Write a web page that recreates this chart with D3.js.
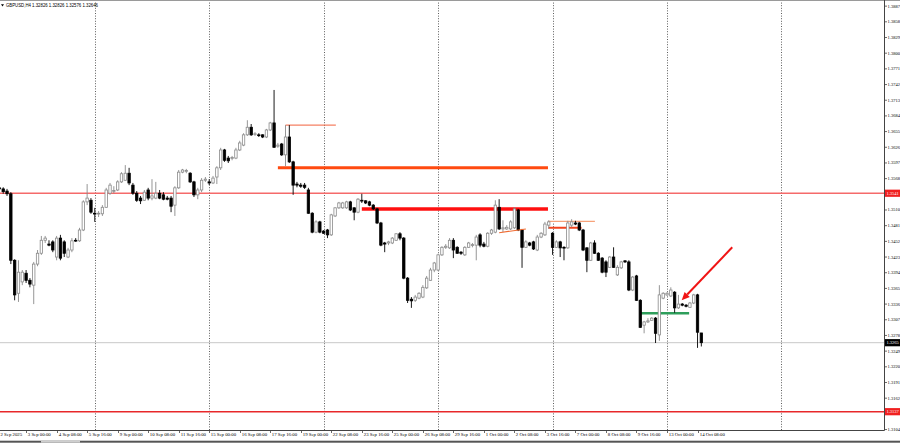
<!DOCTYPE html>
<html><head><meta charset="utf-8">
<script src="https://cdn.jsdelivr.net/npm/d3@7"></script>
<style>html,body{margin:0;padding:0;background:#fff;overflow:hidden}</style>
</head><body><svg id="c" width="900" height="446"></svg>
<script>
// ---------------- DATA ----------------
const symbol = "GBPUSD,H4";
const lastOHLC = [1.32826, 1.32826, 1.32576, 1.32646];
const firstBar = -7; // bar index of the first candle (index 0 = 3 Sep 00:00)
const open = [
1.3551,1.3549,1.3545,1.3540,1.3417,1.3356,1.3377,1.3393,1.3380,1.3371,
1.3410,1.3430,1.3454,1.3447,1.3451,1.3423,1.3458,1.3451,1.3423,1.3436,
1.3454,1.3453,1.3473,1.3525,1.3528,1.3504,1.3503,1.3503,1.3515,1.3541,
1.3545,1.3547,1.3562,1.3565,1.3578,1.3556,1.3541,1.3532,1.3528,1.3547,
1.3532,1.3532,1.3541,1.3538,1.3532,1.3532,1.3519,1.3551,1.3580,1.3582,
1.3578,1.3562,1.3538,1.3547,1.3565,1.3562,1.3560,1.3571,1.3588,1.3621,
1.3606,1.3606,1.3606,1.3621,1.3630,1.3649,1.3663,1.3650,1.3649,1.3649,
1.3645,1.3658,1.3671,1.3628,1.3632,1.3612,1.3645,1.3599,1.3558,1.3556,
1.3556,1.3547,1.3504,1.3469,1.3488,1.3471,1.3473,1.3464,1.3499,1.3514,
1.3514,1.3514,1.3525,1.3514,1.3506,1.3528,1.3527,1.3525,1.3519,1.3512,
1.3486,1.3449,1.3449,1.3449,1.3454,1.3466,1.3458,1.3384,1.3345,1.3343,
1.3347,1.3349,1.3366,1.3380,1.3399,1.3399,1.3427,1.3441,1.3440,1.3454,
1.3441,1.3432,1.3427,1.3441,1.3445,1.3445,1.3464,1.3447,1.3443,1.3467,
1.3469,1.3515,1.3475,1.3475,1.3475,1.3477,1.3510,1.3473,1.3441,1.3449,
1.3451,1.3436,1.3460,1.3464,1.3482,1.3467,1.3441,1.3451,1.3441,1.3440,
1.3482,1.3486,1.3486,1.3473,1.3440,1.3417,1.3449,1.3430,1.3421,1.3414,
1.3404,1.3423,1.3390,1.3403,1.3416,1.3414,1.3362,1.3388,1.3343,1.3297,
1.3303,1.3306,1.3310,1.3279,1.3347,1.3353,1.3351,1.3358,1.3329,1.3336,
1.3334,1.3330,1.3338,1.3353,1.32826];
const high = [
1.3554,1.3552,1.3549,1.3543,1.3419,1.3417,1.3399,1.3399,1.3384,1.3414,
1.3436,1.3462,1.3462,1.3454,1.3454,1.3462,1.3464,1.3454,1.3440,1.3458,
1.3458,1.3477,1.3528,1.3558,1.3532,1.3514,1.3508,1.3519,1.3551,1.3560,
1.3554,1.3565,1.3580,1.3593,1.3588,1.3560,1.3545,1.3536,1.3547,1.3551,
1.3567,1.3562,1.3547,1.3543,1.3536,1.3536,1.3554,1.3584,1.3586,1.3586,
1.3580,1.3564,1.3551,1.3569,1.3571,1.3567,1.3573,1.3591,1.3625,1.3623,
1.3610,1.3610,1.3625,1.3638,1.3652,1.3676,1.3669,1.3654,1.3652,1.3650,
1.3660,1.3673,1.3732,1.3634,1.3634,1.3667,1.3667,1.3601,1.3562,1.3560,
1.3560,1.3551,1.3506,1.3491,1.3490,1.3473,1.3475,1.3503,1.3515,1.3525,
1.3525,1.3527,1.3527,1.3515,1.3532,1.3540,1.3528,1.3527,1.3521,1.3514,
1.3488,1.3451,1.3453,1.3460,1.3467,1.3469,1.3460,1.3386,1.3349,1.3353,
1.3358,1.3371,1.3388,1.3403,1.3414,1.3429,1.3443,1.3447,1.3458,1.3458,
1.3443,1.3434,1.3443,1.3451,1.3449,1.3464,1.3467,1.3451,1.3469,1.3475,
1.3528,1.3530,1.3491,1.3482,1.3491,1.3515,1.3512,1.3475,1.3454,1.3451,
1.3453,1.3464,1.3469,1.3488,1.3491,1.3469,1.3454,1.3453,1.3443,1.3490,
1.3493,1.3490,1.3488,1.3475,1.3441,1.3451,1.3454,1.3432,1.3423,1.3417,
1.3425,1.3441,1.3408,1.3416,1.3417,1.3417,1.3388,1.3390,1.3345,1.3305,
1.3310,1.3312,1.3312,1.3371,1.3358,1.3358,1.3367,1.3360,1.3353,1.3338,
1.3336,1.3340,1.3355,1.3355,1.32826];
const low = [
1.3547,1.3540,1.3536,1.3410,1.3343,1.3340,1.3371,1.3375,1.3367,1.3336,
1.3406,1.3427,1.3449,1.3443,1.3432,1.3417,1.3417,1.3423,1.3421,1.3432,
1.3451,1.3451,1.3471,1.3519,1.3503,1.3488,1.3497,1.3499,1.3514,1.3538,
1.3541,1.3545,1.3560,1.3564,1.3556,1.3538,1.3525,1.3521,1.3527,1.3528,
1.3528,1.3530,1.3530,1.3528,1.3528,1.3506,1.3499,1.3549,1.3578,1.3578,
1.3560,1.3534,1.3530,1.3543,1.3562,1.3556,1.3558,1.3558,1.3584,1.3599,
1.3597,1.3602,1.3604,1.3619,1.3628,1.3647,1.3647,1.3647,1.3645,1.3643,
1.3643,1.3656,1.3625,1.3625,1.3610,1.3591,1.3597,1.3538,1.3552,1.3551,
1.3549,1.3503,1.3467,1.3467,1.3467,1.3466,1.3458,1.3462,1.3497,1.3512,
1.3512,1.3512,1.3508,1.3491,1.3504,1.3523,1.3521,1.3517,1.3510,1.3484,
1.3443,1.3432,1.3445,1.3447,1.3453,1.3454,1.3382,1.3338,1.3329,1.3340,
1.3345,1.3347,1.3364,1.3379,1.3395,1.3397,1.3425,1.3438,1.3438,1.3421,
1.3429,1.3427,1.3425,1.3440,1.3441,1.3417,1.3441,1.3441,1.3441,1.3464,
1.3467,1.3473,1.3469,1.3473,1.3473,1.3475,1.3471,1.3403,1.3440,1.3443,
1.3436,1.3434,1.3458,1.3462,1.3475,1.3427,1.3440,1.3423,1.3417,1.3438,
1.3478,1.3482,1.3471,1.3434,1.3395,1.3416,1.3429,1.3416,1.3393,1.3386,
1.3403,1.3403,1.3388,1.3401,1.3412,1.3360,1.3360,1.3342,1.3292,1.3282,
1.3301,1.3305,1.3264,1.3268,1.3345,1.3351,1.3349,1.3320,1.3327,1.3332,
1.3330,1.3329,1.3336,1.3255,1.32576];
const close = [
1.3549,1.3544,1.3540,1.3417,1.3353,1.3395,1.3395,1.3380,1.3373,1.3410,
1.3430,1.3454,1.3458,1.3445,1.3436,1.3458,1.3421,1.3430,1.3436,1.3453,
1.3453,1.3473,1.3525,1.3532,1.3506,1.3503,1.3504,1.3515,1.3547,1.3556,
1.3546,1.3562,1.3577,1.3578,1.3560,1.3541,1.3528,1.3527,1.3543,1.3532,
1.3536,1.3541,1.3532,1.3530,1.3530,1.3517,1.3551,1.3580,1.3584,1.3583,
1.3562,1.3538,1.3547,1.3565,1.3567,1.3560,1.3569,1.3588,1.3621,1.3602,
1.3601,1.3607,1.3621,1.3634,1.3649,1.3663,1.3649,1.3651,1.3648,1.3645,
1.3658,1.3671,1.3626,1.3630,1.3612,1.3645,1.3599,1.3556,1.3556,1.3554,
1.3552,1.3504,1.3469,1.3488,1.3469,1.3467,1.3464,1.3501,1.3514,1.3523,
1.3523,1.3525,1.3510,1.3506,1.3530,1.3527,1.3523,1.3519,1.3512,1.3486,
1.3445,1.3447,1.3451,1.3458,1.3466,1.3458,1.3384,1.3343,1.3342,1.3349,
1.3356,1.3367,1.3384,1.3399,1.3412,1.3427,1.3441,1.3443,1.3454,1.3436,
1.3430,1.3430,1.3441,1.3449,1.3446,1.3460,1.3445,1.3443,1.3467,1.3473,
1.3519,1.3475,1.3477,1.3478,1.3488,1.3512,1.3473,1.3441,1.3451,1.3445,
1.3438,1.3460,1.3467,1.3484,1.3488,1.3441,1.3451,1.3440,1.3440,1.3486,
1.3488,1.3484,1.3473,1.3436,1.3417,1.3449,1.3430,1.3417,1.3395,1.3395,
1.3423,1.3404,1.3404,1.3414,1.3414,1.3362,1.3386,1.3343,1.3293,1.3303,
1.3305,1.3310,1.3282,1.3353,1.3356,1.3356,1.3362,1.3329,1.3336,1.3334,
1.3332,1.3338,1.3353,1.3284,1.32646];

const priceTicks = [1.3104,1.3133,1.3162,1.3191,1.3220,1.3249,1.3278,1.3307,1.3336,1.3365,
  1.3394,1.3423,1.3452,1.3481,1.3510,1.3539,1.3568,1.3597,1.3626,1.3655,
  1.3684,1.3713,1.3742,1.3771,1.3800,1.3829,1.3858,1.3887];
const firstTimeLabel = "2 Sep 2025";
const timeTickBars = [0,8,16,24,32,40,48,56,64,72,80,88,96,104,112,120,128,136,144,152,160,168,176];
const timeTickLabels = ["3 Sep 00:00","4 Sep 08:00","5 Sep 16:00","9 Sep 00:00","10 Sep 08:00",
  "11 Sep 16:00","15 Sep 00:00","16 Sep 08:00","17 Sep 16:00","19 Sep 00:00","22 Sep 08:00",
  "23 Sep 16:00","25 Sep 00:00","26 Sep 08:00","29 Sep 16:00","1 Oct 00:00","2 Oct 08:00",
  "3 Oct 16:00","7 Oct 00:00","8 Oct 08:00","9 Oct 16:00","13 Oct 00:00","14 Oct 08:00"];
const weekStartBars = [18,48,78,108,138,168,198];

// horizontal levels across the chart
const levelPrices = [1.3541, 1.3137];
// drawn segments (price, from bar, to bar)
const segPrice = [1.3667, 1.3588, 1.3512, 1.3489, 1.3477, 1.3319];
const segFrom  = [68.0, 66.0, 88.0, 136.9, 136.9, 160.9];
const segTo    = [81.2, 136.8, 136.8, 149.1, 145.6, 173.8];
const trendBars = [124.0, 131.0], trendPrices = [1.3468, 1.3475];
const arrowBars = [185.1, 171.85], arrowPrices = [1.3441, 1.3343];

// ---------------- DRAW ----------------
const svg = d3.select("#c");
const x = d3.scaleLinear().domain([0, 168]).range([26.1, 667.0]);
const y = d3.scaleLinear().domain([1.3104, 1.3887]).range([429.54, 6.14]);
const plotR = 884.5, plotB = 430.5;

svg.append("defs").append("clipPath").attr("id","pc")
  .append("rect").attr("x",0).attr("y",0).attr("width",plotR).attr("height",plotB);
const plot = svg.append("g").attr("clip-path","url(#pc)");

// week separators
plot.selectAll("line.sep").data(weekStartBars).join("line")
  .attr("x1", d => Math.round(x(d)) + 0.5).attr("x2", d => Math.round(x(d)) + 0.5)
  .attr("y1", 0).attr("y2", plotB)
  .attr("stroke", "#333").attr("stroke-width", 0.8).attr("stroke-dasharray", "1,1.6");

// full-width levels
const levelColors = ["#f56a6a", "#e8282a"];
plot.selectAll("line.lvl").data(levelPrices).join("line")
  .attr("x1", 0).attr("x2", plotR).attr("y1", d => y(d)).attr("y2", d => y(d))
  .attr("stroke", (d,i) => levelColors[i]).attr("stroke-width", 1.4);

// current price line
plot.append("line").attr("x1",0).attr("x2",plotR)
  .attr("y1", y(lastOHLC[3])).attr("y2", y(lastOHLC[3]))
  .attr("stroke","#c8c8c8").attr("stroke-width",1);

// segments
const segColors = ["#f2603c", "#ff4a10", "#ff1010", "#f7a27a", "#f2441e", "#2e9e5b"];
const segWidths = [1, 3, 3.5, 1.4, 2, 2.6];
plot.selectAll("line.seg").data(segPrice).join("line")
  .attr("x1", (d,i) => x(segFrom[i])).attr("x2", (d,i) => x(segTo[i]))
  .attr("y1", d => y(d)).attr("y2", d => y(d))
  .attr("stroke", (d,i) => segColors[i]).attr("stroke-width", (d,i) => segWidths[i]);

// candles
const bars = open.map((o,k) => ({i: k + firstBar, o, h: high[k], l: low[k], c: close[k]}));
const cg = plot.append("g");
bars.forEach(b => {
  const xc = x(b.i);
  const bull = b.c >= b.o;
  const col = bull ? "#8a8a8a" : "#000";
  cg.append("line").attr("x1", xc).attr("x2", xc)
    .attr("y1", y(b.h)).attr("y2", y(b.l)).attr("stroke", col).attr("stroke-width", 0.9);
  const yt = y(Math.max(b.o, b.c)), yb = y(Math.min(b.o, b.c));
  cg.append("rect").attr("x", xc - 1.2).attr("width", 2.4)
    .attr("y", yt).attr("height", Math.max(0.8, yb - yt))
    .attr("fill", bull ? "#fff" : "#000").attr("stroke", col).attr("stroke-width", 0.8);
});

// trend line
plot.append("line").attr("x1", x(trendBars[0])).attr("y1", y(trendPrices[0]))
  .attr("x2", x(trendBars[1])).attr("y2", y(trendPrices[1]))
  .attr("stroke", "#f06a30").attr("stroke-width", 1.1);

// arrow
{
  const x1 = x(arrowBars[0]), y1 = y(arrowPrices[0]), x2 = x(arrowBars[1]), y2 = y(arrowPrices[1]);
  const ang = Math.atan2(y2 - y1, x2 - x1), L = 8, W = 3.6;
  const bx = x2 - L * Math.cos(ang), by = y2 - L * Math.sin(ang);
  plot.append("line").attr("x1", x1).attr("y1", y1).attr("x2", bx).attr("y2", by)
    .attr("stroke", "#f01414").attr("stroke-width", 2);
  plot.append("path").attr("d",
    `M${x2},${y2}L${bx + W*Math.sin(ang)},${by - W*Math.cos(ang)}L${bx - W*Math.sin(ang)},${by + W*Math.cos(ang)}Z`)
    .attr("fill", "#f01414");
}

// frame
svg.append("line").attr("x1",0).attr("x2",900).attr("y1",0.5).attr("y2",0.5).attr("stroke","#9a9a9a");
svg.append("line").attr("x1",plotR).attr("x2",plotR).attr("y1",0).attr("y2",plotB).attr("stroke","#444");
svg.append("line").attr("x1",0).attr("x2",plotR).attr("y1",plotB).attr("y2",plotB).attr("stroke","#444");

// price axis
const axFont = "'Liberation Serif', serif";
const boxes = [[levelPrices[0], "#f02020"], [levelPrices[1], "#f02020"], [lastOHLC[3], "#000"]];
const pg = svg.append("g");
priceTicks.forEach(p => {
  const yy = y(p);
  pg.append("line").attr("x1", plotR).attr("x2", plotR + 2.5).attr("y1", yy).attr("y2", yy).attr("stroke","#444").attr("stroke-width",0.8);
  if (boxes.some(([bp]) => Math.abs(y(bp) - yy) < 6)) return; // hidden under a level label
  pg.append("text").attr("x", 887.6).attr("y", yy).attr("dy","0.33em")
    .attr("font-family", axFont).attr("font-size", 4.5).attr("fill","#000")
    .text(p.toFixed(4));
});
// level labels
boxes.forEach(([p, col]) => {
  const yy = y(p);
  pg.append("rect").attr("x", plotR + 0.5).attr("y", yy - 3.6).attr("width", 15.5).attr("height", 7.2).attr("fill", col);
  pg.append("text").attr("x", 886.4).attr("y", yy).attr("dy","0.33em")
    .attr("font-family", axFont).attr("font-size", 4.5).attr("fill","#fff")
    .text(p.toFixed(4));
});

// time axis
const tg = svg.append("g");
tg.append("text").attr("x", 0.5).attr("y", 434.5).attr("dy","0.33em")
  .attr("font-family", axFont).attr("font-size", 4.8).attr("fill","#000").text(firstTimeLabel);
timeTickBars.forEach((b, k) => {
  const xx = Math.round(x(b)) + 0.5;
  tg.append("line").attr("x1", xx).attr("x2", xx).attr("y1", plotB).attr("y2", plotB + 2.5).attr("stroke","#444").attr("stroke-width",0.8);
  tg.append("text").attr("x", xx + 1.3).attr("y", 434.5).attr("dy","0.33em")
    .attr("font-family", axFont).attr("font-size", 4.8).attr("fill","#000").text(timeTickLabels[k]);
});

// bottom strip
svg.append("rect").attr("x",0).attr("y",440.7).attr("width",900).attr("height",2).attr("fill","#555");
svg.append("rect").attr("x",41).attr("y",440.7).attr("width",39).attr("height",2).attr("fill","#cfcfcf");

// title
svg.append("path").attr("d","M1,4.2L4,4.2L2.5,6.6Z").attr("fill","#000");
svg.append("text").attr("x", 6).attr("y", 5.8).attr("dy","0.33em")
  .attr("font-family","'Liberation Sans', sans-serif").attr("font-size", 4.6).attr("fill","#000")
  .attr("textLength", 92).attr("lengthAdjust","spacingAndGlyphs")
  .text(symbol + " " + lastOHLC.map(v => v.toFixed(5)).join(" "));
</script></body></html>
